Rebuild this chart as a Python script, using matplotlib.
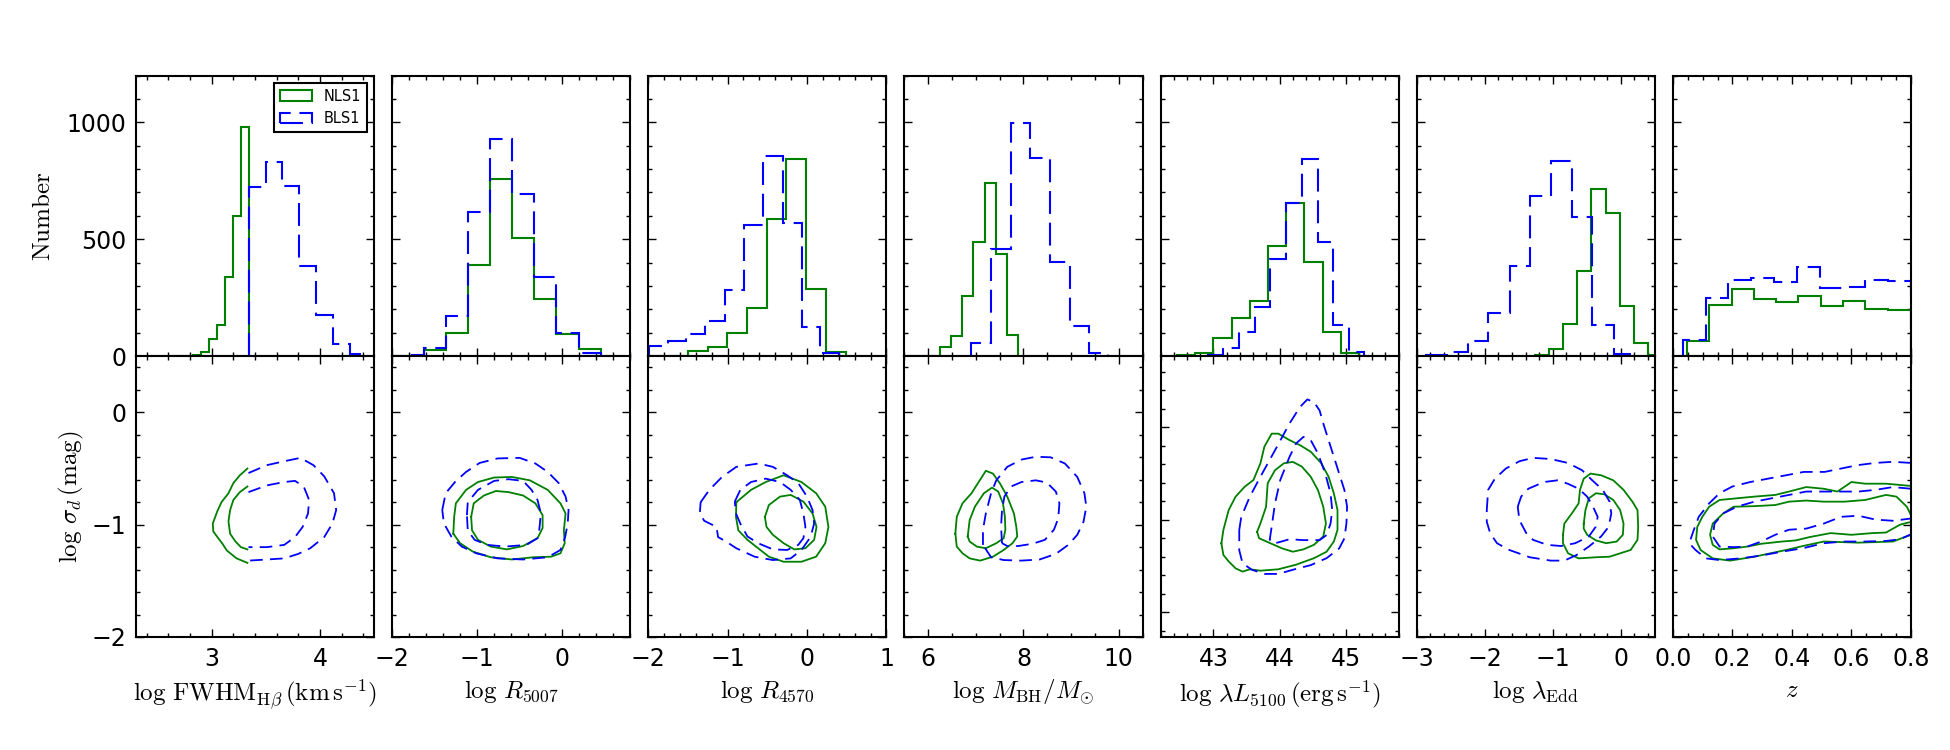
import matplotlib.pyplot as plt
import numpy as np
from matplotlib.ticker import MultipleLocator

plt.rcParams["mathtext.fontset"] = "cm"
plt.rcParams["font.family"] = ["DejaVu Sans"]

# ======================== Histogram data (bin edges, counts) ========================

fwhm_nls1_edges = [2.601, 2.675, 2.749, 2.824, 2.898, 2.972, 3.046, 3.121, 3.195, 3.269, 3.344]
fwhm_nls1_counts = [1, 2, 3, 6, 20, 73, 134, 340, 598, 979]
fwhm_bls1_edges = [3.344, 3.502, 3.650, 3.811, 3.960, 4.121, 4.276, 4.430]
fwhm_bls1_counts = [722, 829, 726, 387, 178, 53, 10]

r5007_edges = [-2.146, -1.887, -1.628, -1.364, -1.107, -0.850, -0.585, -0.328, -0.071, 0.198, 0.455]
r5007_nls1_counts = [1, 3, 27, 98, 392, 759, 504, 246, 95, 30]
r5007_bls1_counts = [2, 6, 36, 172, 618, 929, 694, 340, 98, 13]

r4570_nls1_edges = [-1.992, -1.746, -1.504, -1.250, -1.008, -0.754, -0.508, -0.263, -0.013, 0.242, 0.487]
r4570_nls1_counts = [3, 3, 21, 41, 98, 205, 587, 843, 288, 17]
r4570_bls1_edges = [-1.992, -1.754, -1.525, -1.280, -1.038, -0.797, -0.559, -0.305, -0.064, 0.169, 0.407]
r4570_bls1_counts = [45, 67, 93, 152, 285, 561, 857, 570, 124, 13]

mbh_nls1_edges = [5.523, 5.761, 6.007, 6.239, 6.470, 6.709, 6.940, 7.186, 7.425, 7.656, 7.895]
mbh_nls1_counts = [1, 2, 3, 38, 88, 258, 490, 739, 435, 91]
mbh_bls1_edges = [6.905, 7.326, 7.733, 8.133, 8.554, 8.975, 9.375, 9.782]
mbh_bls1_counts = [57, 459, 997, 846, 405, 131, 13]

l5100_nls1_edges = [42.445, 42.723, 43.0, 43.277, 43.555, 43.832, 44.099, 44.372, 44.654, 44.931, 45.204]
l5100_nls1_counts = [4, 14, 78, 164, 238, 470, 655, 402, 105, 14]
l5100_bls1_edges = [42.914, 43.151, 43.388, 43.625, 43.857, 44.099, 44.336, 44.573, 44.805, 45.042, 45.279]
l5100_bls1_counts = [4, 36, 103, 209, 416, 654, 843, 490, 134, 17]

edd_nls1_edges = [-1.268, -1.057, -0.850, -0.644, -0.432, -0.221, -0.015, 0.192, 0.403, 0.609]
edd_nls1_counts = [4, 31, 138, 363, 716, 614, 216, 56, 4]
edd_bls1_edges = [-2.865, -2.560, -2.251, -1.946, -1.636, -1.332, -1.022, -0.713, -0.418, -0.103, 0.206]
edd_bls1_counts = [4, 18, 66, 185, 387, 685, 836, 594, 134, 10]

z_nls1_edges = [0.046, 0.122, 0.198, 0.273, 0.348, 0.422, 0.497, 0.573, 0.646, 0.722, 0.800]
z_nls1_counts = [67, 217, 286, 244, 231, 256, 214, 235, 204, 199]
z_bls1_edges = [0.033, 0.110, 0.186, 0.263, 0.340, 0.416, 0.493, 0.570, 0.647, 0.723, 0.800]
z_bls1_counts = [70, 248, 328, 335, 318, 380, 292, 298, 326, 320]

# ======================== Contour data (x, log sigma_d) ========================
# two density levels (outer, inner) per population

fwhm_nls1_outer = [[3.33, -0.50], [3.26, -0.56], [3.20, -0.63], [3.155, -0.72], [3.09, -0.80], [3.05, -0.885],
                   [3.01, -0.99], [3.015, -1.06], [3.06, -1.12], [3.10, -1.17], [3.14, -1.23], [3.23, -1.30],
                   [3.33, -1.34]]
fwhm_nls1_inner = [[3.33, -0.66], [3.26, -0.71], [3.20, -0.78], [3.17, -0.87], [3.155, -0.97], [3.17, -1.08],
                   [3.22, -1.15], [3.27, -1.20], [3.33, -1.22]]
fwhm_bls1_outer = [[3.34, -0.54], [3.51, -0.47], [3.67, -0.435], [3.82, -0.405], [3.94, -0.47], [4.04, -0.57],
                   [4.13, -0.72], [4.15, -0.87], [4.115, -0.99], [4.04, -1.11], [3.91, -1.21], [3.80, -1.26],
                   [3.67, -1.30], [3.51, -1.31], [3.34, -1.32]]
fwhm_bls1_inner = [[3.34, -0.71], [3.51, -0.65], [3.67, -0.62], [3.77, -0.61], [3.85, -0.66], [3.90, -0.78],
                   [3.89, -0.90], [3.84, -1.02], [3.77, -1.11], [3.67, -1.18], [3.51, -1.20], [3.34, -1.20]]

r5007_nls1_outer = [[-1.28, -1.08], [-1.27, -0.93], [-1.25, -0.81], [-1.13, -0.69], [-0.99, -0.62], [-0.80, -0.58],
                    [-0.59, -0.575], [-0.38, -0.605], [-0.17, -0.69], [-0.02, -0.81], [0.04, -0.90], [0.02, -1.05],
                    [0.03, -1.165], [-0.02, -1.255], [-0.13, -1.285], [-0.34, -1.29], [-0.59, -1.31],
                    [-0.84, -1.29], [-1.05, -1.24], [-1.20, -1.165]]
r5007_nls1_inner = [[-1.07, -0.93], [-1.04, -0.81], [-0.92, -0.74], [-0.78, -0.70], [-0.63, -0.71], [-0.46, -0.74],
                    [-0.315, -0.81], [-0.23, -0.915], [-0.23, -1.03], [-0.29, -1.12], [-0.46, -1.19],
                    [-0.65, -1.22], [-0.84, -1.195], [-0.99, -1.135], [-1.06, -1.05]]
r5007_bls1_outer = [[-1.41, -0.87], [-1.37, -0.72], [-1.26, -0.62], [-1.13, -0.53], [-0.97, -0.45], [-0.76, -0.41],
                    [-0.50, -0.405], [-0.315, -0.455], [-0.17, -0.53], [-0.04, -0.63], [0.04, -0.75], [0.075, -0.87],
                    [0.065, -0.99], [0.035, -1.11], [-0.02, -1.225], [-0.17, -1.29], [-0.46, -1.31],
                    [-0.76, -1.30], [-1.01, -1.255], [-1.18, -1.195], [-1.30, -1.11], [-1.39, -0.99]]
r5007_bls1_inner = [[-1.12, -0.915], [-1.11, -0.80], [-0.99, -0.69], [-0.80, -0.61], [-0.63, -0.595],
                    [-0.46, -0.61], [-0.36, -0.69], [-0.29, -0.78], [-0.25, -0.90], [-0.27, -1.05], [-0.29, -1.12],
                    [-0.42, -1.18], [-0.67, -1.195], [-0.88, -1.18], [-1.03, -1.135], [-1.11, -1.05]]

r4570_nls1_outer = [[-0.89, -0.80], [-0.705, -0.69], [-0.52, -0.62], [-0.295, -0.56], [-0.07, -0.62], [0.115, -0.72],
                    [0.23, -0.84], [0.27, -1.02], [0.23, -1.165], [0.115, -1.285], [-0.07, -1.33], [-0.295, -1.33],
                    [-0.48, -1.285], [-0.615, -1.21], [-0.75, -1.135], [-0.865, -1.05], [-0.895, -0.93]]
r4570_nls1_inner = [[-0.53, -0.93], [-0.48, -0.825], [-0.34, -0.75], [-0.205, -0.735], [-0.045, -0.795],
                    [0.07, -0.90], [0.12, -1.02], [0.09, -1.135], [-0.02, -1.21], [-0.16, -1.22], [-0.295, -1.165],
                    [-0.43, -1.09], [-0.51, -1.02]]
r4570_bls1_outer = [[-1.34, -0.80], [-1.23, -0.69], [-1.07, -0.575], [-0.89, -0.485], [-0.61, -0.455],
                    [-0.43, -0.485], [-0.25, -0.56], [-0.11, -0.63], [0.0, -0.75], [0.07, -0.87], [0.09, -0.99],
                    [0.045, -1.11], [-0.07, -1.225], [-0.205, -1.30], [-0.43, -1.315], [-0.66, -1.285],
                    [-0.89, -1.21], [-1.02, -1.15], [-1.12, -1.11], [-1.14, -1.02], [-1.295, -0.965], [-1.35, -0.90]]
r4570_bls1_inner = [[-0.91, -0.795], [-0.84, -0.69], [-0.705, -0.62], [-0.52, -0.59], [-0.34, -0.62],
                    [-0.205, -0.69], [-0.09, -0.78], [-0.045, -0.90], [-0.02, -1.02], [-0.045, -1.12],
                    [-0.11, -1.18], [-0.25, -1.225], [-0.43, -1.22], [-0.615, -1.165], [-0.75, -1.105],
                    [-0.84, -0.99], [-0.895, -0.90]]

mbh_nls1_outer = [[6.57, -1.08], [6.60, -0.93], [6.72, -0.81], [6.91, -0.72], [7.06, -0.62], [7.21, -0.52],
                  [7.36, -0.545], [7.51, -0.635], [7.66, -0.75], [7.80, -0.90], [7.85, -1.02], [7.87, -1.105],
                  [7.77, -1.165], [7.585, -1.225], [7.36, -1.285], [7.09, -1.32], [6.87, -1.30], [6.72, -1.255],
                  [6.60, -1.195]]
mbh_nls1_inner = [[6.83, -1.105], [6.87, -0.96], [6.98, -0.84], [7.17, -0.72], [7.34, -0.67], [7.47, -0.705],
                  [7.57, -0.81], [7.61, -0.93], [7.62, -1.045], [7.585, -1.12], [7.43, -1.165], [7.21, -1.21],
                  [7.02, -1.195], [6.87, -1.15]]
mbh_bls1_outer = [[7.15, -1.18], [7.15, -1.045], [7.21, -0.90], [7.32, -0.72], [7.43, -0.605], [7.66, -0.485],
                  [7.96, -0.42], [8.26, -0.395], [8.57, -0.40], [8.87, -0.455], [9.13, -0.575], [9.28, -0.72],
                  [9.32, -0.84], [9.26, -0.975], [9.13, -1.09], [8.94, -1.18], [8.68, -1.26], [8.34, -1.31],
                  [7.96, -1.32], [7.585, -1.315], [7.32, -1.29]]
mbh_bls1_inner = [[7.55, -1.165], [7.53, -1.02], [7.55, -0.87], [7.60, -0.75], [7.74, -0.66], [7.96, -0.62],
                  [8.26, -0.605], [8.49, -0.625], [8.68, -0.705], [8.755, -0.81], [8.73, -0.945], [8.64, -1.045],
                  [8.45, -1.135], [8.19, -1.17], [7.89, -1.19], [7.66, -1.19]]

l5100_nls1_outer = [[43.12, -1.255], [43.15, -1.11], [43.23, -0.895], [43.335, -0.75], [43.47, -0.645],
                    [43.605, -0.57], [43.71, -0.39], [43.77, -0.21], [43.88, -0.07], [43.98, -0.07], [44.15, -0.14],
                    [44.31, -0.195], [44.47, -0.265], [44.63, -0.39], [44.74, -0.535], [44.82, -0.715],
                    [44.875, -0.895], [44.875, -1.11], [44.82, -1.235], [44.71, -1.345], [44.52, -1.415],
                    [44.25, -1.485], [43.98, -1.535], [43.71, -1.55], [43.55, -1.535], [43.44, -1.56],
                    [43.335, -1.525], [43.23, -1.45], [43.15, -1.38]]
l5100_nls1_inner = [[43.66, -1.13], [43.71, -1.04], [43.795, -0.86], [43.82, -0.605], [43.93, -0.465],
                    [44.065, -0.39], [44.20, -0.375], [44.335, -0.425], [44.47, -0.535], [44.58, -0.68],
                    [44.66, -0.86], [44.70, -1.04], [44.66, -1.18], [44.52, -1.27], [44.36, -1.32], [44.20, -1.345],
                    [44.04, -1.31], [43.88, -1.26], [43.69, -1.20]]
l5100_bls1_outer = [[43.39, -1.11], [43.42, -0.97], [43.55, -0.75], [43.71, -0.535], [43.93, -0.25], [44.15, 0.04],
                    [44.31, 0.22], [44.42, 0.30], [44.52, 0.27], [44.605, 0.18], [44.66, 0.04], [44.74, -0.14],
                    [44.82, -0.32], [44.90, -0.50], [44.98, -0.68], [45.02, -0.86], [45.01, -1.04], [44.98, -1.20],
                    [44.90, -1.31], [44.71, -1.415], [44.47, -1.49], [44.20, -1.54], [43.98, -1.585],
                    [43.77, -1.585], [43.58, -1.54], [43.44, -1.47], [43.39, -1.33]]
l5100_bls1_inner = [[43.85, -1.22], [43.88, -1.075], [43.93, -0.825], [44.01, -0.57], [44.15, -0.32],
                    [44.25, -0.175], [44.36, -0.105], [44.47, -0.14], [44.58, -0.285], [44.69, -0.50],
                    [44.77, -0.715], [44.795, -0.895], [44.77, -1.04], [44.71, -1.165], [44.605, -1.22],
                    [44.36, -1.22], [44.15, -1.21], [43.98, -1.245], [43.90, -1.255]]

edd_nls1_outer = [[-0.85, -1.09], [-0.83, -0.99], [-0.72, -0.90], [-0.62, -0.81], [-0.60, -0.69], [-0.545, -0.59],
                  [-0.445, -0.545], [-0.29, -0.56], [-0.11, -0.605], [0.04, -0.69], [0.17, -0.795], [0.245, -0.87],
                  [0.255, -1.02], [0.245, -1.135], [0.145, -1.225], [-0.01, -1.255], [-0.165, -1.285],
                  [-0.365, -1.29], [-0.62, -1.30], [-0.775, -1.255], [-0.85, -1.165]]
edd_nls1_inner = [[-0.545, -0.99], [-0.52, -0.87], [-0.47, -0.765], [-0.365, -0.72], [-0.24, -0.73],
                  [-0.11, -0.78], [-0.01, -0.87], [0.04, -0.99], [0.03, -1.09], [-0.06, -1.15], [-0.215, -1.165],
                  [-0.365, -1.14], [-0.495, -1.09], [-0.545, -1.035]]
edd_bls1_outer = [[-1.97, -0.87], [-1.95, -0.69], [-1.85, -0.59], [-1.69, -0.50], [-1.49, -0.435], [-1.29, -0.405],
                  [-1.03, -0.415], [-0.78, -0.45], [-0.57, -0.515], [-0.42, -0.605], [-0.265, -0.69],
                  [-0.165, -0.795], [-0.14, -0.90], [-0.18, -1.02], [-0.29, -1.105], [-0.47, -1.195],
                  [-0.65, -1.27], [-0.83, -1.32], [-1.03, -1.32], [-1.34, -1.29], [-1.64, -1.225],
                  [-1.82, -1.165], [-1.92, -1.075], [-1.97, -0.975]]
edd_bls1_inner = [[-1.515, -0.84], [-1.465, -0.75], [-1.36, -0.68], [-1.13, -0.62], [-0.93, -0.605],
                  [-0.78, -0.635], [-0.62, -0.68], [-0.495, -0.75], [-0.42, -0.825], [-0.34, -0.93],
                  [-0.37, -1.02], [-0.47, -1.105], [-0.67, -1.165], [-0.88, -1.19], [-1.08, -1.18],
                  [-1.29, -1.135], [-1.39, -1.075], [-1.49, -0.96]]

z_nls1_outer = [[0.80, -0.655], [0.716, -0.635], [0.646, -0.635], [0.60, -0.62], [0.553, -0.705], [0.507, -0.68],
                [0.448, -0.665], [0.39, -0.705], [0.344, -0.735], [0.274, -0.75], [0.215, -0.765], [0.157, -0.78],
                [0.122, -0.84], [0.099, -0.93], [0.082, -1.02], [0.078, -1.135], [0.093, -1.225], [0.134, -1.30],
                [0.192, -1.32], [0.274, -1.285], [0.39, -1.22], [0.437, -1.19], [0.507, -1.15], [0.623, -1.16],
                [0.739, -1.15], [0.80, -1.09]]
z_nls1_inner = [[0.798, -0.905], [0.786, -0.84], [0.751, -0.75], [0.716, -0.735], [0.646, -0.78], [0.576, -0.795],
                [0.507, -0.795], [0.448, -0.785], [0.39, -0.795], [0.344, -0.825], [0.274, -0.835], [0.204, -0.84],
                [0.169, -0.90], [0.134, -0.99], [0.125, -1.09], [0.134, -1.18], [0.157, -1.22], [0.204, -1.21],
                [0.25, -1.195], [0.297, -1.17], [0.367, -1.15], [0.413, -1.14], [0.46, -1.11], [0.53, -1.075],
                [0.60, -1.09], [0.67, -1.075], [0.716, -1.07], [0.763, -1.0], [0.80, -0.975]]
z_bls1_outer = [[0.80, -0.45], [0.74, -0.44], [0.68, -0.45], [0.62, -0.47], [0.565, -0.50], [0.51, -0.53],
                [0.44, -0.53], [0.38, -0.56], [0.32, -0.59], [0.26, -0.62], [0.20, -0.66], [0.157, -0.72],
                [0.122, -0.81], [0.087, -0.93], [0.07, -1.05], [0.055, -1.165], [0.076, -1.225], [0.111, -1.30],
                [0.157, -1.315], [0.227, -1.30], [0.297, -1.275], [0.367, -1.24], [0.437, -1.21], [0.507, -1.165],
                [0.576, -1.15], [0.646, -1.15], [0.716, -1.145], [0.763, -1.13], [0.80, -1.085]]
z_bls1_inner = [[0.80, -0.68], [0.739, -0.665], [0.681, -0.69], [0.623, -0.705], [0.565, -0.705], [0.507, -0.705],
                [0.448, -0.705], [0.39, -0.735], [0.332, -0.765], [0.274, -0.795], [0.215, -0.84], [0.169, -0.90],
                [0.14, -0.99], [0.134, -1.105], [0.157, -1.195], [0.204, -1.20], [0.25, -1.195], [0.297, -1.15],
                [0.344, -1.09], [0.39, -1.045], [0.448, -1.035], [0.507, -0.99], [0.565, -0.93], [0.623, -0.92],
                [0.681, -0.955], [0.739, -0.965], [0.80, -0.945]]

x_labels = [
    r"$\log\,\mathrm{FWHM}_{\mathrm{H}\beta}\,(\mathrm{km\,s^{-1}})$",
    r"$\log\,R_{5007}$",
    r"$\log\,R_{4570}$",
    r"$\log\,M_{\mathrm{BH}}/M_{\odot}$",
    r"$\log\,\lambda L_{5100}\,(\mathrm{erg\,s^{-1}})$",
    r"$\log\,\lambda_{\mathrm{Edd}}$",
    r"$z$",
]

# ======================== Panel setup ========================

NLS1_COLOR = "g"
BLS1_COLOR = "b"
HIST_DASH = (0, (11, 4.2))
CONT_DASH = (0, (7, 4))
LABEL_SIZE = 18

panels = [
    dict(xlim=(2.3, 4.5), major=1, minor=0.2, closed=False,
         nls1=(fwhm_nls1_edges, fwhm_nls1_counts), bls1=(fwhm_bls1_edges, fwhm_bls1_counts),
         nls1_c=[fwhm_nls1_outer, fwhm_nls1_inner], bls1_c=[fwhm_bls1_outer, fwhm_bls1_inner]),
    dict(xlim=(-2, 0.8), major=1, minor=0.2, closed=True,
         nls1=(r5007_edges, r5007_nls1_counts), bls1=(r5007_edges, r5007_bls1_counts),
         nls1_c=[r5007_nls1_outer, r5007_nls1_inner], bls1_c=[r5007_bls1_outer, r5007_bls1_inner]),
    dict(xlim=(-2, 1), major=1, minor=0.2, closed=True,
         nls1=(r4570_nls1_edges, r4570_nls1_counts), bls1=(r4570_bls1_edges, r4570_bls1_counts),
         nls1_c=[r4570_nls1_outer, r4570_nls1_inner], bls1_c=[r4570_bls1_outer, r4570_bls1_inner]),
    dict(xlim=(5.5, 10.5), major=2, minor=0.5, closed=True,
         nls1=(mbh_nls1_edges, mbh_nls1_counts), bls1=(mbh_bls1_edges, mbh_bls1_counts),
         nls1_c=[mbh_nls1_outer, mbh_nls1_inner], bls1_c=[mbh_bls1_outer, mbh_bls1_inner]),
    dict(xlim=(42.2, 45.8), major=1, minor=0.2, closed=True, ylim=(-2.266, 0.766),
         nls1=(l5100_nls1_edges, l5100_nls1_counts), bls1=(l5100_bls1_edges, l5100_bls1_counts),
         nls1_c=[l5100_nls1_outer, l5100_nls1_inner], bls1_c=[l5100_bls1_outer, l5100_bls1_inner]),
    dict(xlim=(-3, 0.5), major=1, minor=0.2, closed=True,
         nls1=(edd_nls1_edges, edd_nls1_counts), bls1=(edd_bls1_edges, edd_bls1_counts),
         nls1_c=[edd_nls1_outer, edd_nls1_inner], bls1_c=[edd_bls1_outer, edd_bls1_inner]),
    dict(xlim=(0, 0.8), major=0.2, minor=0.05, closed=False,
         nls1=(z_nls1_edges, z_nls1_counts), bls1=(z_bls1_edges, z_bls1_counts),
         nls1_c=[z_nls1_outer, z_nls1_inner], bls1_c=[z_bls1_outer, z_bls1_inner]),
]


def style_axis(ax):
    for sp in ax.spines.values():
        sp.set_linewidth(1.5)
    ax.tick_params(which="both", direction="in", top=True, right=True, labelsize=17, pad=7)
    ax.tick_params(which="major", length=6, width=1.0)
    ax.tick_params(which="minor", length=3, width=1.0)


def draw_hist(ax, edges, counts, color, ls, label):
    edges = np.asarray(edges)
    centers = 0.5 * (edges[:-1] + edges[1:])
    ax.hist(centers, bins=edges, weights=counts, histtype="step", color=color,
            linewidth=1.5, linestyle=ls, label=label)


def draw_contours(ax, contours, color, ls, closed):
    for c in contours:
        c = np.asarray(c)
        if closed:
            c = np.vstack([c, c[:1]])
        ax.plot(c[:, 0], c[:, 1], color=color, linewidth=1.3, linestyle=ls)


def main():
    fig, axes = plt.subplots(2, 7, figsize=(19.5, 7.5), dpi=100)
    fig.subplots_adjust(left=0.0697, right=0.980, top=0.8993, bottom=0.1507, wspace=0.0756, hspace=0)

    for i, p in enumerate(panels):
        ax_h, ax_c = axes[0, i], axes[1, i]

        draw_hist(ax_h, p["nls1"][0], p["nls1"][1], NLS1_COLOR, "-", "NLS1")
        draw_hist(ax_h, p["bls1"][0], p["bls1"][1], BLS1_COLOR, HIST_DASH, "BLS1")
        draw_contours(ax_c, p["nls1_c"], NLS1_COLOR, "-", p["closed"])
        draw_contours(ax_c, p["bls1_c"], BLS1_COLOR, CONT_DASH, p["closed"])

        for ax in (ax_h, ax_c):
            ax.set_xlim(*p["xlim"])
            ax.xaxis.set_major_locator(MultipleLocator(p["major"]))
            ax.xaxis.set_minor_locator(MultipleLocator(p["minor"]))
            ax.ticklabel_format(axis="x", useOffset=False)
            style_axis(ax)

        ax_h.set_ylim(0, 1200)
        ax_h.yaxis.set_major_locator(MultipleLocator(500))
        ax_h.yaxis.set_minor_locator(MultipleLocator(100))
        ax_h.tick_params(labelbottom=False)

        ax_c.set_ylim(*p.get("ylim", (-2, 0.5)))
        ax_c.yaxis.set_major_locator(MultipleLocator(1))
        ax_c.yaxis.set_minor_locator(MultipleLocator(0.2))
        ax_c.set_xlabel(x_labels[i], fontsize=LABEL_SIZE, labelpad=5)

        if i > 0:
            ax_h.tick_params(labelleft=False)
            ax_c.tick_params(labelleft=False)

    axes[0, 0].set_ylabel(r"$\mathrm{Number}$", fontsize=LABEL_SIZE, labelpad=8)
    axes[1, 0].set_ylabel(r"$\log\,\sigma_d\,(\mathrm{mag})$", fontsize=LABEL_SIZE, labelpad=4)

    leg = axes[0, 0].legend(loc="upper right", fontsize=10.5, fancybox=False, framealpha=1,
                            edgecolor="black", handlelength=2.2, borderaxespad=0.5)
    leg.get_frame().set_linewidth(1.5)

    fig.savefig("out.png", dpi=100)
    plt.close(fig)


if __name__ == "__main__":
    main()
